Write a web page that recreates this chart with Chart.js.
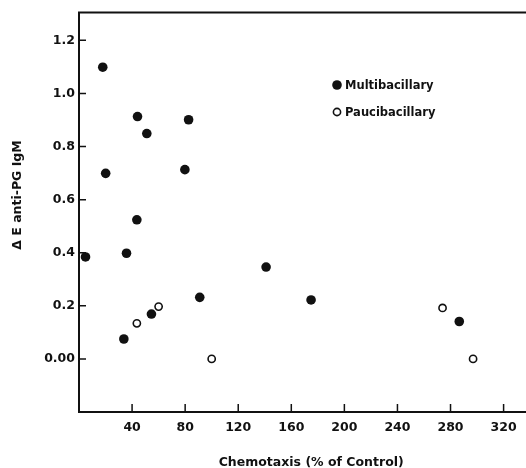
<!DOCTYPE html>
<html>
<head>
<meta charset="utf-8">
<script src="https://cdn.jsdelivr.net/npm/chart.js@4.4.1/dist/chart.umd.min.js"></script>
<style>
html, body { margin: 0; padding: 0; background: #fff; overflow: hidden; }
</style>
</head>
<body>
<canvas id="graph_data" width="549" height="470"></canvas>
<script>
// values
const multiX = [4.9, 17.9, 20.1, 35.8, 33.8, 44.1, 43.6, 51.1, 54.6, 79.8, 82.6, 91, 141, 174.9, 286.6];
const multiY = [0.384, 1.099, 0.699, 0.398, 0.075, 0.913, 0.524, 0.849, 0.169, 0.713, 0.901, 0.232, 0.346, 0.222, 0.141];
const pauciX = [43.6, 60, 100, 274, 297];
const pauciY = [0.134, 0.197, 0, 0.192, 0];
const xTicks = [40, 80, 120, 160, 200, 240, 280, 320];
const yTicks = [0, 0.2, 0.4, 0.6, 0.8, 1.0, 1.2];
const yTickLabels = ['0.00', '0.2', '0.4', '0.6', '0.8', '1.0', '1.2'];

const FONT = 'DejaVu Sans';
const INK = '#111';

function toPoints(xs, ys){
    return xs.map(function(x, i){ return {x: x, y: ys[i]}; });
}

// frame, inward ticks, y title and legend
const frame = {
    id: 'frame',
    afterDraw(chart){
        const ctx = chart.ctx;
        const a = chart.chartArea;
        const sx = chart.scales.x;
        const sy = chart.scales.y;
        ctx.save();
        ctx.strokeStyle = INK;
        ctx.lineWidth = 2;
        ctx.strokeRect(a.left, a.top, a.right - a.left, a.bottom - a.top);
        ctx.lineWidth = 1.5;
        ctx.beginPath();
        xTicks.forEach(function(v){
            const px = sx.getPixelForValue(v);
            ctx.moveTo(px, a.bottom);
            ctx.lineTo(px, a.bottom - 8);
        });
        yTicks.forEach(function(v){
            const py = sy.getPixelForValue(v);
            ctx.moveTo(a.left, py);
            ctx.lineTo(a.left + 7, py);
        });
        ctx.stroke();

        // y axis title
        ctx.fillStyle = INK;
        ctx.font = 'bold 12.5px "' + FONT + '"';
        ctx.textAlign = 'center';
        ctx.textBaseline = 'middle';
        ctx.save();
        ctx.translate(18, 195);
        ctx.rotate(-Math.PI / 2);
        ctx.fillText('\u0394 E anti-PG IgM', 0, 0);
        ctx.restore();

        // legend
        ctx.font = 'bold 11.5px "' + FONT + '"';
        ctx.textAlign = 'left';
        chart.data.datasets.forEach(function(ds, i){
            const cy = 85 + i * 27;
            ctx.beginPath();
            ctx.arc(337, cy, ds.pointRadius, 0, Math.PI * 2);
            ctx.fillStyle = ds.backgroundColor;
            ctx.fill();
            if(ds.borderWidth){
                ctx.lineWidth = ds.borderWidth;
                ctx.strokeStyle = ds.borderColor;
                ctx.stroke();
            }
            ctx.fillStyle = INK;
            ctx.fillText(ds.label, 345, cy + 1);
        });
        ctx.restore();
    }
};

const data = {
    datasets: [{
        label: 'Multibacillary',
        data: toPoints(multiX, multiY),
        pointRadius: 4.8,
        backgroundColor: INK,
        borderColor: INK,
        borderWidth: 0
    }, {
        label: 'Paucibacillary',
        data: toPoints(pauciX, pauciY),
        pointRadius: 3.6,
        backgroundColor: '#fff',
        borderColor: INK,
        borderWidth: 1.6
    }]
};

const tickFont = {family: FONT, weight: 'bold', size: 12.5};

const scatter = {
    type: 'scatter',
    data: data,
    options: {
        responsive: false,
        animation: false,
        layout: {padding: {top: 12.5, left: 0, right: 0, bottom: 0}},
        plugins: {
            legend: {display: false},
            tooltip: {enabled: false}
        },
        scales: {
            x: {
                type: 'linear',
                min: 0,
                max: 350,
                afterBuildTicks: function(s){ s.ticks = xTicks.map(function(v){ return {value: v}; }); },
                afterFit: function(s){ s.height = 58; },
                grid: {display: false, drawTicks: false},
                border: {display: false},
                ticks: {font: tickFont, color: INK, padding: 8, maxRotation: 0, autoSkip: false},
                title: {
                    display: true,
                    text: 'Chemotaxis (% of Control)',
                    color: INK,
                    font: {family: FONT, weight: 'bold', size: 12.5},
                    padding: 0
                }
            },
            y: {
                min: -0.2,
                max: 1.305,
                afterBuildTicks: function(s){ s.ticks = yTicks.map(function(v){ return {value: v}; }); },
                afterFit: function(s){ s.width = 79; },
                grid: {display: false, drawTicks: false},
                border: {display: false},
                ticks: {
                    font: tickFont,
                    color: INK,
                    padding: 4,
                    autoSkip: false,
                    callback: function(v, i){ return yTickLabels[i]; }
                }
            }
        }
    },
    plugins: [frame]
};

new Chart(document.getElementById('graph_data'), scatter);
</script>
</body>
</html>
